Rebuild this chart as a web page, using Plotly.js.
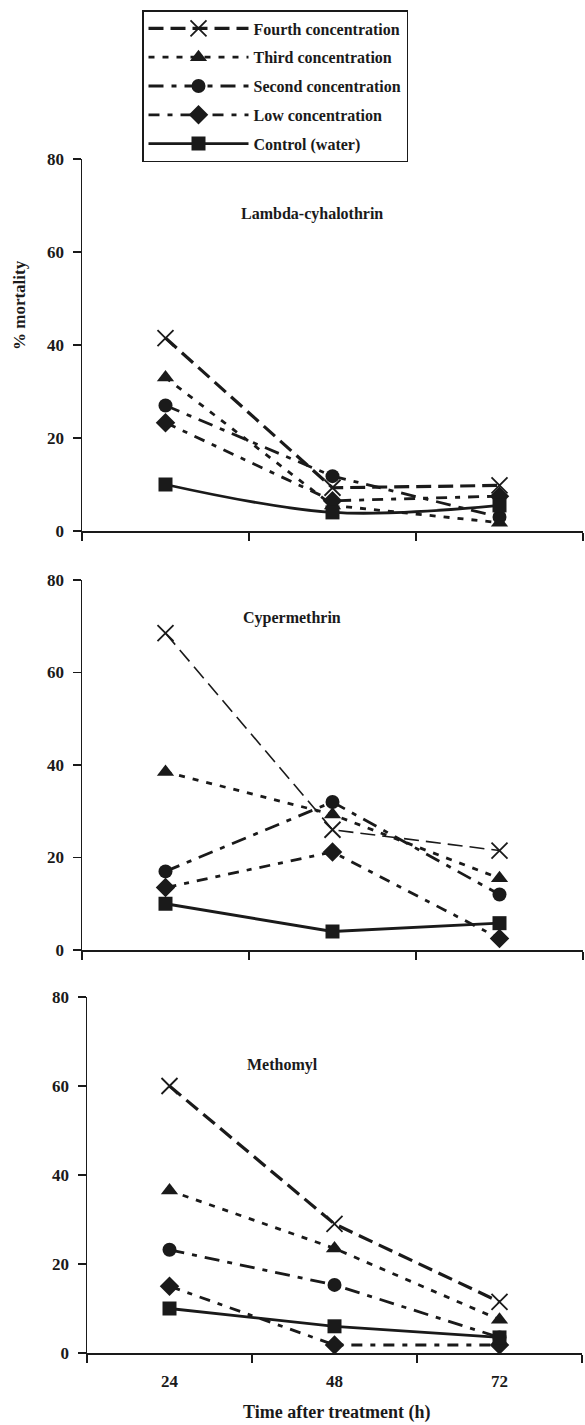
<!DOCTYPE html>
<html>
<head>
<meta charset="utf-8">
<script src="https://cdn.plot.ly/plotly-3.0.1.min.js"></script>
<style>html,body{margin:0;padding:0;background:#fff;}#chart{width:585px;height:1425px;}</style>
</head>
<body>
<div id="chart"></div>
<script>
// ---- data ----
const times = ["24", "48", "72"];
const seriesNames = ["Fourth concentration", "Third concentration", "Second concentration", "Low concentration", "Control (water)"];
const panelTitles = ["Lambda-cyhalothrin", "Cypermethrin", "Methomyl"];
const yTicks = [0, 20, 40, 60, 80];

// Lambda-cyhalothrin
const lambdaFourth  = [41.5, 9.3, 9.8];
const lambdaThird   = [33.0, 5.5, 1.8];
const lambdaSecond  = [27.0, 11.8, 3.0];
const lambdaLow     = [23.3, 6.5, 7.5];
const lambdaControl = [10.0, 4.0, 5.5];

// Cypermethrin
const cyperFourth  = [68.5, 26.0, 21.5];
const cyperThird   = [38.5, 29.3, 15.5];
const cyperSecond  = [17.0, 32.0, 12.0];
const cyperLow     = [13.5, 21.2, 2.5];
const cyperControl = [10.0, 4.0, 5.8];

// Methomyl
const methoFourth  = [60.0, 29.0, 11.5];
const methoThird   = [36.5, 23.5, 7.5];
const methoSecond  = [23.2, 15.3, 3.5];
const methoLow     = [15.0, 1.8, 1.8];
const methoControl = [10.0, 6.0, 3.5];

const panels = [
  [lambdaFourth, lambdaThird, lambdaSecond, lambdaLow, lambdaControl],
  [cyperFourth, cyperThird, cyperSecond, cyperLow, cyperControl],
  [methoFourth, methoThird, methoSecond, methoLow, methoControl]
];

// ---- styles ----
const INK = "#1a1a1a";
const FONT = "Liberation Serif";
const seriesStyle = [
  {dash: "15px,7px", symbol: "x-thin-open", size: 16},
  {dash: "6px,8px", symbol: "triangle-up", size: 15},
  {dash: "15px,8px,5px,8px", symbol: "circle", size: 14},
  {dash: "11px,8px,5px,8px", symbol: "diamond", size: 15},
  {dash: "solid", symbol: "square", size: 14}
];
const lineWidths = [
  [3.2, 2.8, 2.8, 2.8, 2.8],
  [1.6, 2.8, 2.8, 2.8, 2.8],
  [3.2, 2.8, 2.8, 2.8, 2.8]
];

const W = 585, H = 1425;
const px = v => v / W;
const py = v => 1 - v / H;

// pixel frames of panels: [xLeft, xRight, yTop(80), yBottom(0)]
const frames = [
  [82, 583, 159, 531],
  [82, 583, 580, 950],
  [87, 582, 997, 1353]
];

const traces = [];
panels.forEach((series, p) => {
  series.forEach((vals, s) => {
    const st = seriesStyle[s];
    traces.push({
      type: "scatter",
      mode: "lines+markers",
      x: times,
      y: vals,
      name: seriesNames[s],
      legendgroup: "g" + s,
      showlegend: p === 0,
      xaxis: p === 0 ? "x" : "x" + (p + 1),
      yaxis: p === 0 ? "y" : "y" + (p + 1),
      cliponaxis: false,
      line: {color: INK, width: lineWidths[p][s], dash: st.dash,
             shape: (p === 0 && s === 4) ? "spline" : "linear"},
      marker: {symbol: st.symbol, size: st.size, color: INK,
               line: {color: INK, width: st.symbol === "x-thin-open" ? 1.8 : 0}}
    });
  });
});

const tickFont = {family: FONT, size: 17, color: INK, weight: "bold"};
const layout = {
  width: W, height: H,
  margin: {l: 0, r: 0, t: 0, b: 0},
  paper_bgcolor: "#fff", plot_bgcolor: "rgba(0,0,0,0)",
  showlegend: true,
  legend: {
    x: px(142), y: py(10), xanchor: "left", yanchor: "top",
    bordercolor: INK, borderwidth: 1.5, bgcolor: "#fff",
    font: {family: FONT, size: 16, color: INK, weight: "bold"},
    traceorder: "grouped", tracegroupgap: 5, itemwidth: 100
  },
  annotations: [],
  shapes: []
};

frames.forEach((f, p) => {
  const xa = p === 0 ? "xaxis" : "xaxis" + (p + 1);
  const ya = p === 0 ? "yaxis" : "yaxis" + (p + 1);
  layout[xa] = {
    type: "category",
    domain: [px(f[0]), px(f[1])],
    anchor: p === 0 ? "y" : "y" + (p + 1),
    range: [-0.5, 2.5],
    tickson: "boundaries",
    ticks: "outside", ticklen: 8, tickwidth: 1.5, tickcolor: INK,
    showline: true, linewidth: 1.5, linecolor: INK,
    showgrid: false, zeroline: false,
    showticklabels: p === 2,
    tickfont: tickFont,
    ticklabelstandoff: 12,
    fixedrange: true
  };
  layout[ya] = {
    domain: [py(f[3]), py(f[2])],
    anchor: p === 0 ? "x" : "x" + (p + 1),
    range: [0, 80],
    tickvals: yTicks,
    ticktext: yTicks.map(String),
    ticks: "outside", ticklen: 8, tickwidth: 1.5, tickcolor: INK,
    showline: true, linewidth: 1.5, linecolor: INK,
    showgrid: false, zeroline: false,
    tickfont: tickFont,
    ticklabelstandoff: 5,
    fixedrange: true
  };
});

// panel titles
const titlePos = [[312, 214], [292, 618], [282, 1065]];
panelTitles.forEach((t, i) => {
  layout.annotations.push({
    text: t, xref: "paper", yref: "paper",
    x: px(titlePos[i][0]), y: py(titlePos[i][1]),
    xanchor: "center", yanchor: "middle", showarrow: false,
    font: {family: FONT, size: 16, color: INK, weight: "bold"}
  });
});
// y axis title
layout.annotations.push({
  text: "% mortality", xref: "paper", yref: "paper",
  x: px(19), y: py(305), xanchor: "center", yanchor: "middle",
  textangle: -90, showarrow: false,
  font: {family: FONT, size: 17, color: INK, weight: "bold"}
});
// x axis title
layout.annotations.push({
  text: "Time after treatment (h)", xref: "paper", yref: "paper",
  x: px(336), y: py(1412), xanchor: "center", yanchor: "middle",
  showarrow: false,
  font: {family: FONT, size: 18, color: INK, weight: "bold"}
});

Plotly.newPlot("chart", traces, layout, {displayModeBar: false, staticPlot: true});
</script>
</body>
</html>
